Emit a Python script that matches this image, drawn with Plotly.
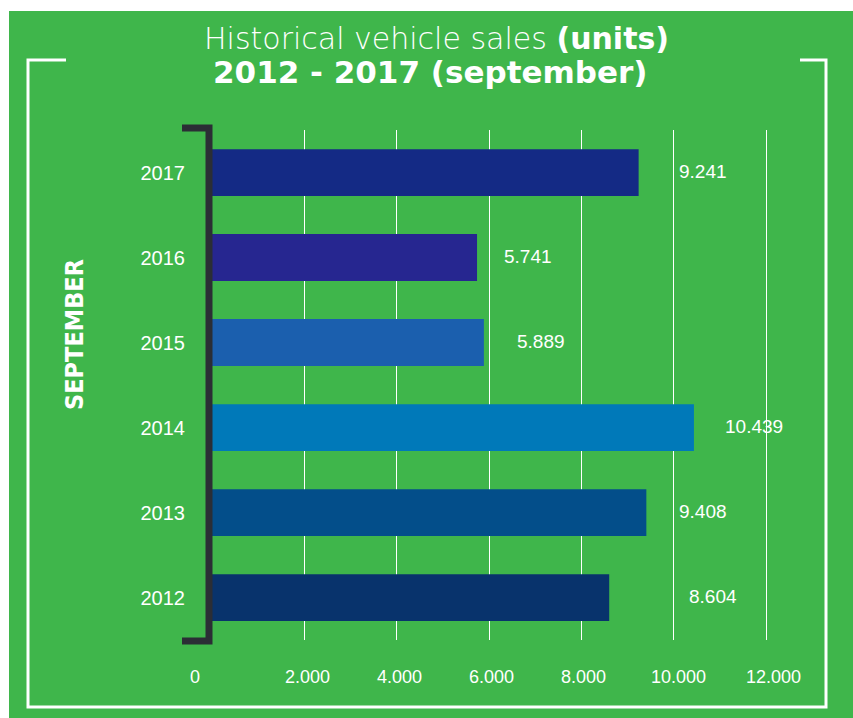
import plotly.graph_objects as go

# ---- data ----
years = ["2012", "2013", "2014", "2015", "2016", "2017"]
sales = [8604, 9408, 10439, 5889, 5741, 9241]
bar_colors = ["#08336c", "#034e8a", "#0079b9", "#1b5fae", "#262690", "#142a85"]
x_ticks = [0, 2000, 4000, 6000, 8000, 10000, 12000]
x_tick_text = ["0", "2.000", "4.000", "6.000", "8.000", "10.000", "12.000"]

# ---- styling / layout constants ----
label_shift = [78, 31, 29, 31, 25, 38]          # px gap between bar end and value label
x_tick_shift = [-17, 3, 3, 2, 2, 5, 7]          # px horizontal shift of x tick labels
GREEN = "#3fb64b"
DARK = "#2b2e35"
FONT = "Liberation Sans, Arial, Helvetica, sans-serif"

W, H = 853, 718
L, T, B = 212, 130, 78
PW = 560
R = W - L - PW
PH = H - T - B
XMAX = 12000 * PW / 554.0


def fx(px):
    return (px - L) / PW


def fy(py):
    return (H - B - py) / PH


def fmt(v):
    return f"{v:,}".replace(",", ".")


fig = go.Figure(
    go.Bar(
        y=years,
        x=sales,
        orientation="h",
        marker=dict(color=bar_colors, line=dict(width=0)),
        hoverinfo="skip",
    )
)

shapes = []
# white borders outside the green panel
shapes.append(dict(type="rect", xref="paper", yref="paper", x0=fx(0), x1=fx(W), y0=fy(11), y1=fy(0),
                   fillcolor="white", line=dict(width=0), layer="below"))
shapes.append(dict(type="rect", xref="paper", yref="paper", x0=fx(0), x1=fx(9), y0=fy(H), y1=fy(0),
                   fillcolor="white", line=dict(width=0), layer="below"))
# white frame
frame = (f"M {fx(66)} {fy(60)} L {fx(28)} {fy(60)} L {fx(28)} {fy(707)} "
         f"L {fx(826)} {fy(707)} L {fx(826)} {fy(60)} L {fx(800)} {fy(60)}")
shapes.append(dict(type="path", xref="paper", yref="paper", path=frame,
                   line=dict(color="white", width=3)))
# dark bracket
bracket = (f"M {fx(182)} {fy(128)} L {fx(209)} {fy(128)} L {fx(209)} {fy(641)} L {fx(182)} {fy(641)}")
shapes.append(dict(type="path", xref="paper", yref="paper", path=bracket,
                   line=dict(color=DARK, width=7)))

annotations = []
# value labels (category axis: positions are category indices)
for i, (v, s) in enumerate(zip(sales, label_shift)):
    annotations.append(dict(x=v, y=i, xref="x", yref="y", text=fmt(v), showarrow=False,
                            xanchor="left", yanchor="middle", xshift=s, yshift=1,
                            font=dict(family=FONT, size=19, color="white")))
# x tick labels
for v, t, s in zip(x_ticks, x_tick_text, x_tick_shift):
    annotations.append(dict(x=v, y=fy(677), xref="x", yref="paper", text=t, showarrow=False,
                            xanchor="center", yanchor="middle", xshift=s,
                            font=dict(family=FONT, size=18, color="white")))
# SEPTEMBER
annotations.append(dict(x=fx(74), y=fy(335), xref="paper", yref="paper", text="<b>SEPTEMBER</b>",
                        showarrow=False, textangle=-90, xanchor="center", yanchor="middle",
                        font=dict(family="DejaVu Sans Condensed, Liberation Sans Narrow, sans-serif",
                                  size=25, color="white")))
# title
annotations.append(dict(x=fx(436), y=fy(39), xref="paper", yref="paper",
                        text="Historical vehicle sales <b>(units)</b>", showarrow=False,
                        xanchor="center", yanchor="middle",
                        font=dict(family="DejaVu Sans", size=30, color="white", weight=200)))
annotations.append(dict(x=fx(430), y=fy(72), xref="paper", yref="paper",
                        text="<b>2012 - 2017 (september)</b>", showarrow=False,
                        xanchor="center", yanchor="middle",
                        font=dict(family="DejaVu Sans", size=31, color="white")))

fig.update_layout(
    width=W, height=H,
    margin=dict(l=L, r=R, t=T, b=B, pad=0),
    paper_bgcolor=GREEN,
    plot_bgcolor=GREEN,
    showlegend=False,
    bargap=0.45,
    shapes=shapes,
    annotations=annotations,
    xaxis=dict(range=[0, XMAX], tickvals=x_ticks, showticklabels=False, showgrid=True,
               gridcolor="white", gridwidth=1, zeroline=False, showline=False, ticks="",
               fixedrange=True),
    yaxis=dict(type="category", categoryorder="array", categoryarray=years,
               range=[-0.5, 5.5], showgrid=False, zeroline=False, showline=False, ticks="",
               ticklabelstandoff=26,
               tickfont=dict(family=FONT, size=20, color="white"), fixedrange=True),
)

fig.write_html("out.html", config={"displayModeBar": False})
